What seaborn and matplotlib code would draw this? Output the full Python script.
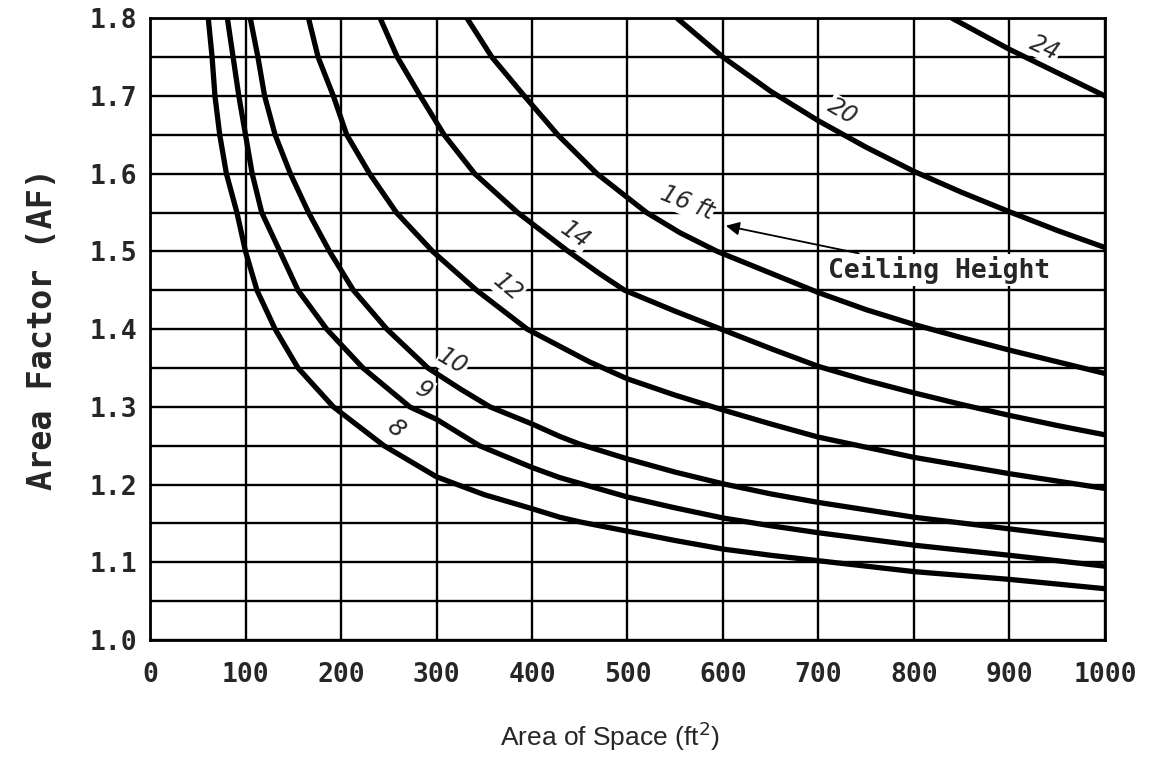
import numpy as np
import pandas as pd
import matplotlib
matplotlib.use("Agg")
import matplotlib.pyplot as plt
import seaborn as sns

# Courbes : surface (ft2) -> facteur de surface (AF)
area_8 = [61, 65, 68, 73, 80, 91, 100, 112, 131, 155, 192, 245, 300, 350, 400, 429, 450, 500, 550, 600, 650, 700, 800, 900, 1000]
af_8 = [1.8, 1.75, 1.7, 1.65, 1.6, 1.55, 1.5, 1.45, 1.4, 1.35, 1.3, 1.25, 1.21, 1.187, 1.169, 1.158, 1.152, 1.140, 1.128, 1.117, 1.109, 1.102, 1.088, 1.078, 1.066]

area_9 = [81, 87, 93, 100, 107, 117, 136, 155, 185, 223, 272, 300, 345, 400, 429, 500, 550, 600, 650, 700, 800, 900, 1000]
af_9 = [1.8, 1.75, 1.7, 1.65, 1.6, 1.55, 1.5, 1.45, 1.4, 1.35, 1.3, 1.284, 1.25, 1.222, 1.209, 1.184, 1.170, 1.157, 1.147, 1.138, 1.122, 1.109, 1.095]

area_10 = [105, 113, 120, 131, 147, 166, 188, 213, 248, 291, 325, 356, 400, 429, 450, 500, 550, 600, 650, 700, 800, 900, 1000]
af_10 = [1.8, 1.75, 1.7, 1.65, 1.6, 1.55, 1.5, 1.45, 1.4, 1.35, 1.323, 1.3, 1.278, 1.262, 1.252, 1.233, 1.216, 1.201, 1.188, 1.177, 1.158, 1.143, 1.128]

area_12 = [166, 176, 192, 206, 230, 258, 296, 342, 395, 429, 460, 500, 550, 600, 650, 700, 800, 900, 1000]
af_12 = [1.8, 1.75, 1.7, 1.65, 1.6, 1.55, 1.5, 1.45, 1.4, 1.378, 1.358, 1.336, 1.315, 1.296, 1.278, 1.261, 1.235, 1.214, 1.195]

area_14 = [241, 259, 283, 308, 340, 385, 438, 470, 497, 550, 598, 650, 700, 750, 800, 850, 900, 950, 1000]
af_14 = [1.8, 1.75, 1.7, 1.65, 1.6, 1.55, 1.5, 1.472, 1.45, 1.423, 1.4, 1.375, 1.352, 1.334, 1.318, 1.303, 1.289, 1.276, 1.264]

area_16 = [332, 358, 392, 427, 468, 520, 555, 594, 650, 700, 750, 800, 850, 900, 950, 1000]
af_16 = [1.8, 1.75, 1.7, 1.65, 1.6, 1.55, 1.524, 1.5, 1.472, 1.447, 1.425, 1.406, 1.389, 1.373, 1.358, 1.343]

area_20 = [552, 600, 650, 700, 750, 800, 850, 900, 950, 1000]
af_20 = [1.8, 1.75, 1.706, 1.668, 1.634, 1.603, 1.576, 1.551, 1.527, 1.505]

area_24 = [840, 870, 900, 950, 1000]
af_24 = [1.8, 1.78, 1.76, 1.73, 1.7]

heights = ["8", "9", "10", "12", "14", "16", "20", "24"]
curve_labels = ["8", "9", "10", "12", "14", "16 ft", "20", "24"]
label_x = [257, 287, 317, 375, 445, 562, 725, 937]
label_y = [1.272, 1.321, 1.358, 1.454, 1.521, 1.562, 1.680, 1.762]
label_rot = [-40, -30, -30, -40, -35, -22, -30, -25]

x_ticks = [0, 100, 200, 300, 400, 500, 600, 700, 800, 900, 1000]
y_ticks = [1.0, 1.1, 1.2, 1.3, 1.4, 1.5, 1.6, 1.7, 1.8]
y_minor = [1.05, 1.15, 1.25, 1.35, 1.45, 1.55, 1.65, 1.75]

areas = [area_8, area_9, area_10, area_12, area_14, area_16, area_20, area_24]
afs = [af_8, af_9, af_10, af_12, af_14, af_16, af_20, af_24]
df = pd.concat([pd.DataFrame({"area": a, "af": f, "h": h})
                for a, f, h in zip(areas, afs, heights)], ignore_index=True)

sns.set_style("white")
mono = ["DejaVu Sans Mono"]

fig = plt.figure(figsize=(11.54, 7.61), dpi=100)
ax = fig.add_axes([0.130, 0.159, 0.8275, 0.817])

sns.lineplot(data=df, x="area", y="af", hue="h", units="h", estimator=None,
             sort=False, palette={h: "black" for h in heights}, linewidth=3.8,
             legend=False, ax=ax, zorder=3)

ax.set_xlim(0, 1000)
ax.set_ylim(1.0, 1.8)
ax.set_xticks(x_ticks)
ax.set_xticklabels([str(v) for v in x_ticks], family=mono, weight="bold", fontsize=19)
ax.set_yticks(y_ticks)
ax.set_yticklabels([f"{v:.1f}" for v in y_ticks], family=mono, weight="bold", fontsize=19)
ax.set_yticks(y_minor, minor=True)
ax.tick_params(which="both", length=0)
ax.tick_params(axis="x", pad=16)
ax.tick_params(axis="y", pad=9)

ax.grid(axis="x", which="major", color="black", lw=1.7)
ax.grid(axis="y", which="both", color="black", lw=1.7)
ax.set_axisbelow(True)
for s in ax.spines.values():
    s.set_color("black")
    s.set_linewidth(2)

ax.set_xlabel("Area of Space (ft$^2$)", family="Liberation Sans", fontsize=19)
ax.xaxis.set_label_coords(0.482, -0.128)
ax.set_ylabel("Area Factor (AF)", family=mono, weight="bold", fontsize=24, labelpad=22)

for t, x, y, r in zip(curve_labels, label_x, label_y, label_rot):
    ax.text(x, y, t, rotation=r, ha="center", va="center", fontsize=17,
            style="italic", zorder=4,
            bbox=dict(fc="white", ec="none", pad=0.5))

ax.annotate("Ceiling Height", xy=(603, 1.533), xytext=(710, 1.476),
            family=mono, weight="bold", fontsize=19, va="center", ha="left",
            bbox=dict(fc="white", ec="none", pad=1.5), zorder=5,
            arrowprops=dict(arrowstyle="-|>", color="black", lw=1.3,
                            mutation_scale=20, shrinkA=2, shrinkB=0))

plt.savefig("out.png", dpi=100)
